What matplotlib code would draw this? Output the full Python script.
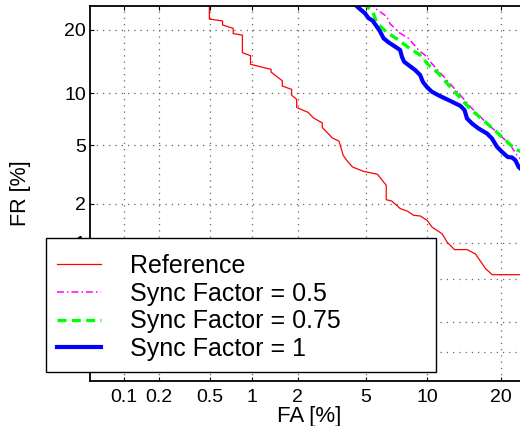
import math
import numpy as np
import matplotlib
matplotlib.use("Agg")
import matplotlib.pyplot as plt
from matplotlib.patches import Rectangle
from matplotlib.ticker import NullLocator

plt.rcParams['font.family'] = ['Liberation Sans', 'DejaVu Sans']

# ---------------- data (percent) ----------------
tick_vals = [0.1, 0.2, 0.5, 1, 2, 5, 10, 20]
tick_labels = ["0.1", "0.2", "0.5", "1", "2", "5", "10", "20"]
axis_lim = [0.05, 25.0]

ref_fa = [0.495, 0.495, 0.62, 0.62, 0.74, 0.74, 0.86, 0.86, 0.98, 0.98, 1.35, 1.35,
          1.60, 1.60, 1.835, 1.835, 1.975, 1.975, 2.33, 2.50, 2.83, 2.83, 3.24, 3.54,
          3.74, 3.91, 4.22, 4.83, 5.73, 6.36, 6.36, 6.79, 7.47, 8.10, 8.65, 9.30, 10.0,
          10.53, 11.66, 12.26, 13.17, 14.85, 16.02, 17.53, 18.57, 30.0]
ref_fr = [30.0, 22.2, 21.8, 21.0, 20.3, 19.3, 19.0, 15.86, 15.36, 13.98, 13.21, 12.81,
          11.58, 10.88, 10.45, 9.74, 9.24, 8.35, 7.82, 7.29, 6.81, 6.40, 5.54, 5.29,
          4.31, 4.00, 3.61, 3.38, 3.23, 2.71, 2.14, 2.09, 1.84, 1.76, 1.64, 1.62, 1.50,
          1.33, 1.18, 1.01, 0.88, 0.88, 0.81, 0.61, 0.54, 0.54]

s05_fa = [5.18, 5.58, 6.40, 6.66, 7.46, 8.18, 9.13, 9.98, 10.32, 12.03, 13.92, 15.52,
          18.01, 19.90, 21.61, 22.80, 23.77]
s05_fr = [25.9, 24.51, 22.71, 21.20, 19.36, 18.42, 16.32, 15.19, 14.39, 11.92, 9.74, 8.24,
          6.61, 5.75, 4.99, 4.31, 3.94]

s075_fa = [4.81, 5.42, 5.69, 6.40, 7.32, 8.28, 9.29, 10.14, 11.25, 12.43, 13.40, 14.36,
           15.75, 17.49, 19.08, 20.74, 22.49, 23.77]
s075_fr = [25.7, 23.78, 21.34, 19.56, 18.10, 16.61, 15.47, 13.87, 12.62, 11.01, 9.95, 8.96,
           7.88, 6.90, 6.11, 5.36, 4.71, 4.51]

s1_fa = [4.19, 4.64, 4.93, 5.14, 5.40, 5.69, 5.92, 6.16, 6.53, 7.05, 7.46, 7.61, 7.80,
         8.18, 8.81, 9.29, 9.56, 9.98, 10.51, 11.44, 12.64, 13.92, 14.49, 14.82, 15.52,
         16.48, 17.76, 18.54, 19.36, 20.18, 21.14, 21.91, 22.49, 23.09, 23.77]
s1_fr = [25.9, 24.3, 23.4, 22.4, 21.9, 20.65, 19.68, 18.42, 17.68, 16.89, 16.32, 15.19,
         14.39, 13.87, 13.10, 12.38, 11.45, 10.75, 10.15, 9.62, 9.07, 8.52, 8.06, 7.23,
         6.76, 6.31, 5.89, 5.49, 4.87, 4.53, 4.20, 4.17, 4.00, 3.61, 3.43]

labels = ["Reference", "Sync Factor = 0.5", "Sync Factor = 0.75", "Sync Factor = 1"]

# ---------------- normal-deviate scale ----------------
_a = [-3.969683028665376e+01, 2.209460984245205e+02, -2.759285104469687e+02,
      1.383577518672690e+02, -3.066479806614716e+01, 2.506628277459239e+00]
_b = [-5.447609879822406e+01, 1.615858368580409e+02, -1.556989798598866e+02,
      6.680131188771972e+01, -1.328068155288572e+01]
_c = [-7.784894002430293e-03, -3.223964580411365e-01, -2.400758277161838e+00,
      -2.549732539343734e+00, 4.374664141464968e+00, 2.938163982698783e+00]
_d = [7.784695709041462e-03, 3.224671290700398e-01, 2.445134137142996e+00,
      3.754408661907416e+00]


def _ppf1(p):
    plow = 0.02425
    if p < plow:
        q = math.sqrt(-2 * math.log(p))
        return (((((_c[0]*q+_c[1])*q+_c[2])*q+_c[3])*q+_c[4])*q+_c[5]) / \
               ((((_d[0]*q+_d[1])*q+_d[2])*q+_d[3])*q+1)
    if p > 1 - plow:
        q = math.sqrt(-2 * math.log(1 - p))
        return -(((((_c[0]*q+_c[1])*q+_c[2])*q+_c[3])*q+_c[4])*q+_c[5]) / \
                ((((_d[0]*q+_d[1])*q+_d[2])*q+_d[3])*q+1)
    q = p - 0.5
    r = q * q
    return (((((_a[0]*r+_a[1])*r+_a[2])*r+_a[3])*r+_a[4])*r+_a[5])*q / \
           (((((_b[0]*r+_b[1])*r+_b[2])*r+_b[3])*r+_b[4])*r+1)


_ppf_v = np.vectorize(_ppf1, otypes=[float])
_erf_v = np.vectorize(math.erf, otypes=[float])


def forward(v):
    p = np.clip(np.asarray(v, dtype=float) / 100.0, 1e-9, 1 - 1e-9)
    return _ppf_v(p)


def inverse(z):
    z = np.asarray(z, dtype=float)
    return 100.0 * 0.5 * (1 + _erf_v(z / math.sqrt(2)))


# ---------------- figure ----------------
W, H = 520, 426
fig = plt.figure(figsize=(W / 100, H / 100), dpi=100)
ax_l, ax_r, ax_t, ax_b = 90, 529, 6, 381
ax = fig.add_axes([ax_l / W, 1 - ax_b / H, (ax_r - ax_l) / W, (ax_b - ax_t) / H])
ax.set_xscale('function', functions=(forward, inverse))
ax.set_yscale('function', functions=(forward, inverse))

l1, = ax.plot(ref_fa, ref_fr, color='#ff0000', lw=0.9, label=labels[0])
l2, = ax.plot(s05_fa, s05_fr, color='#ff00ff', lw=1.1, linestyle=(0, (4.5, 2, 1, 2)), label=labels[1])
l3, = ax.plot(s075_fa, s075_fr, color='#00ff00', lw=2.4, linestyle=(0, (2.7, 1.6)), label=labels[2])
l4, = ax.plot(s1_fa, s1_fr, color='#0000ff', lw=3.0, label=labels[3])

ax.set_xlim(axis_lim)
ax.set_ylim(axis_lim)
ax.set_xticks(tick_vals)
ax.set_xticklabels(tick_labels)
ax.set_yticks(tick_vals)
ax.set_yticklabels(tick_labels)
ax.xaxis.set_minor_locator(NullLocator())
ax.yaxis.set_minor_locator(NullLocator())

ax.grid(True, linestyle=(0, (1, 4)), color='#666666', linewidth=0.9)
ax.tick_params(axis='both', direction='in', length=3, width=0.8, top=True, right=True,
               labelsize=14, colors='black')
ax.tick_params(axis='x', pad=6)
ax.tick_params(axis='y', pad=3)
for s in ['left', 'bottom', 'top']:
    ax.spines[s].set_linewidth(1.3)
ax.spines['right'].set_visible(False)

ax.set_xlabel("FA [%]", fontsize=16)
ax.set_ylabel("FR [%]", fontsize=15.5)
ax.xaxis.set_label_coords((309 - ax_l) / (ax_r - ax_l), (ax_b - 406) / (ax_b - ax_t))
ax.yaxis.set_label_coords((31 - ax_l) / (ax_r - ax_l), 0.5)

# legend box (opaque, covers lower y tick labels as in the reference)
lx0, lx1, ly0, ly1 = 46, 436, 238, 372
rect = Rectangle((lx0 / W, 1 - ly1 / H), (lx1 - lx0) / W, (ly1 - ly0) / H,
                 transform=fig.transFigure, facecolor='white', edgecolor='black',
                 linewidth=1.0, zorder=4)
fig.patches.append(rect)
leg = fig.legend(handles=[l1, l2, l3, l4], labels=labels, loc='upper left',
                 bbox_to_anchor=(57 / W, 1 - 254 / H), frameon=False, fontsize=18,
                 borderpad=0, handlelength=1.76, handletextpad=1.16, labelspacing=0.145,
                 borderaxespad=0)
leg.set_zorder(6)

fig.savefig("out.png", dpi=100)
